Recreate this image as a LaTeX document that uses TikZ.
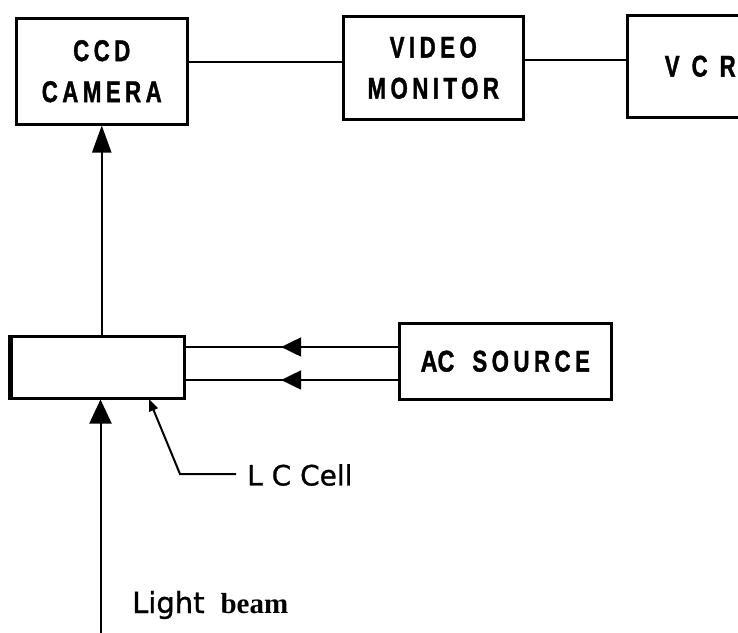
\documentclass[tikz,border=0pt]{standalone}
\usepackage{fontspec}
\setmainfont{Liberation Sans}
\newfontfamily\blockfont{Liberation Sans}[FakeStretch=0.74,LetterSpace=15,FakeBold=1.2]
\newfontfamily\vcrfont{Liberation Sans}[FakeStretch=0.74,LetterSpace=40,FakeBold=1.2]
\newfontfamily\acfont{Liberation Sans}[FakeStretch=0.78,FakeBold=1.2]
\newfontfamily\handfont{DejaVu Sans}[FakeBold=1]
\newfontfamily\beamserif{Liberation Serif}
\usetikzlibrary{arrows.meta,decorations.markings}
\tikzset{
  block/.style={draw, line width=2.5pt, inner sep=0pt, anchor=north west, align=center,
    font=\blockfont\bfseries\fontsize{30}{41}\selectfont},
  wire/.style={line width=2pt},
  midarrow/.style={wire, decoration={markings, mark=at position 0.55 with {\arrow{Triangle[length=20pt,width=19pt]}}}, postaction={decorate}},
}
\begin{document}
\begin{tikzpicture}[x=1pt,y=-1pt]
\useasboundingbox (0,0) rectangle (738,632);
\clip (0,0) rectangle (738,632);
% blocks
\node[block, minimum width=171pt, minimum height=106pt] (cam) at (15,17) {CCD\\CAMERA};
\node[block, minimum width=180pt, minimum height=103pt] (mon) at (342,15) {VIDEO\\MONITOR};
\node[block, minimum width=146pt, minimum height=102pt, font=\vcrfont\bfseries\fontsize{30}{40}\selectfont] (vcr) at (626,14) {VCR};
\node[block, minimum width=173pt, minimum height=62pt] (lc) at (10,335) {};
\draw[line width=4pt] (lc.north west) -- (lc.south west);
\node[block, minimum width=212pt, minimum height=76pt] (ac) at (398,322) {{\acfont\bfseries AC}\hspace{18pt}SOURCE};
% connectors between blocks
\draw[wire] (cam.east |- 0,62) -- (mon.west |- 0,62);
\draw[wire] (mon.east |- 0,60) -- (vcr.west |- 0,60);
\draw[midarrow] (ac.west |- 0,347) -- (lc.east |- 0,347);
\draw[midarrow] (ac.west |- 0,380) -- (lc.east |- 0,380);
% camera arrow
\draw[wire, -{Triangle[length=27pt,width=19pt]}] (lc.north -| cam.south) -- (cam.south);
% light beam
\coordinate (beam) at (100.5,645);
\draw[wire, -{Triangle[length=24pt,width=22pt]}] (beam) -- (lc.south -| beam);
\node[anchor=base west, inner sep=0pt, font=\fontsize{29}{34}\selectfont] (lbl) at (132,613) {\handfont Light\hspace{16pt}\beamserif\bfseries beam};
% LC cell pointer
\node[anchor=west, inner sep=0pt, font=\handfont\fontsize{28}{34}\selectfont] (lctxt) at (247,475) {L C Cell};
\coordinate (lcbend) at (180,474);
\coordinate (lctip) at (149,399);
\draw[wire, -{Triangle[length=12pt,width=9pt]}] (lctxt.west |- lcbend) ++(-11,0) -- (lcbend) -- (lctip);
\end{tikzpicture}
\end{document}
